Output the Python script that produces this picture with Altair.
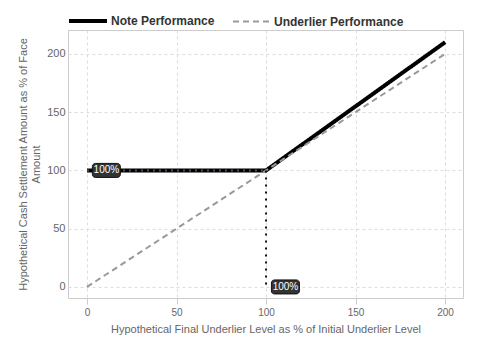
import altair as alt
import pandas as pd

x_vals = [0, 100, 200]
note_vals = [100, 100, 210]
under_x = [0, 200]
under_vals = [0, 200]
series = ["Note Performance", "Underlier Performance"]

rows = [{"x": x, "y": y, "s": series[0]} for x, y in zip(x_vals, note_vals)]
rows += [{"x": x, "y": y, "s": series[1]} for x, y in zip(under_x, under_vals)]
df = pd.DataFrame(rows)

guide_h = pd.DataFrame({"x": [0, 100], "y": [100, 100]})
guide_v = pd.DataFrame({"x": [100, 100], "y": [100, 0]})
labels = pd.DataFrame({"x": [3, 103], "y": [100, 0], "t": ["100%", "100%"]})

xs = alt.Scale(domain=[-10.6, 210], nice=False, zero=False)
ys = alt.Scale(domain=[-9.5, 220.5], nice=False, zero=False)

xaxis = alt.Axis(values=[0, 50, 100, 150, 200], title="Hypothetical Final Underlier Level as % of Initial Underlier Level")
yaxis = alt.Axis(values=[0, 50, 100, 150, 200], title=["Hypothetical Cash Settlement Amount as % of Face", "Amount"])

leg = alt.Legend(title=None, orient="none", direction="horizontal", legendX=-1, legendY=-30)
lines = alt.Chart(df).mark_line(strokeCap="butt").encode(
    x=alt.X("x:Q", scale=xs, axis=xaxis),
    y=alt.Y("y:Q", scale=ys, axis=yaxis),
    color=alt.Color("s:N", scale=alt.Scale(domain=series, range=["#000000", "#999999"]), legend=leg),
    strokeDash=alt.StrokeDash("s:N", scale=alt.Scale(domain=series, range=[[1, 0], [6, 4]]), legend=leg),
    strokeWidth=alt.StrokeWidth("s:N", scale=alt.Scale(domain=series, range=[4, 2]), legend=leg),
    order=alt.Order("x:Q"),
)

dot_h = alt.Chart(guide_h).mark_line(color="#4a4f66", strokeDash=[2, 4], strokeWidth=2).encode(
    x=alt.X("x:Q", scale=xs), y=alt.Y("y:Q", scale=ys))
dot_v = alt.Chart(guide_v).mark_line(color="#111111", strokeDash=[2, 5], strokeWidth=2).encode(
    x=alt.X("x:Q", scale=xs), y=alt.Y("y:Q", scale=ys))

boxes = alt.Chart(labels).mark_rect(width=28, height=14, cornerRadius=3, color="#333333",
                                    stroke="#111111", xOffset=14).encode(
    x=alt.X("x:Q", scale=xs), y=alt.Y("y:Q", scale=ys))
texts = alt.Chart(labels).mark_text(color="white", fontSize=10, font="Liberation Sans",
                                    align="center", dx=14).encode(
    x=alt.X("x:Q", scale=xs), y=alt.Y("y:Q", scale=ys), text="t:N")

chart = alt.layer(lines, dot_h, dot_v, boxes, texts).properties(
    width=395, height=268,
    autosize=alt.AutoSizeParams(type="none"),
    padding={"left": 60, "top": 22, "right": 9, "bottom": 54},
).configure_view(stroke="#cccccc", strokeWidth=1).configure_axis(
    labelFont="Liberation Sans", titleFont="Liberation Sans", titleFontSize=11,
    labelColor="#666666", titleColor="#666666", titleFontWeight="normal",
    grid=True, gridColor="#dddddd", gridDash=[3, 3], domain=False,
    tickColor="#cccccc",
).configure_axisY(ticks=False, labelFontSize=11, labelPadding=3, titlePadding=5).configure_axisX(
    labelFontSize=10, tickSize=6, labelPadding=3, titlePadding=6).configure_legend(
    labelFont="Liberation Sans", labelFontSize=12, labelFontWeight="bold", labelColor="#333333",
    symbolType="stroke", symbolSize=1444, columnPadding=14, padding=0, labelOffset=2,
)

chart.save("out.html", embed_options={"renderer": "svg", "actions": False})
